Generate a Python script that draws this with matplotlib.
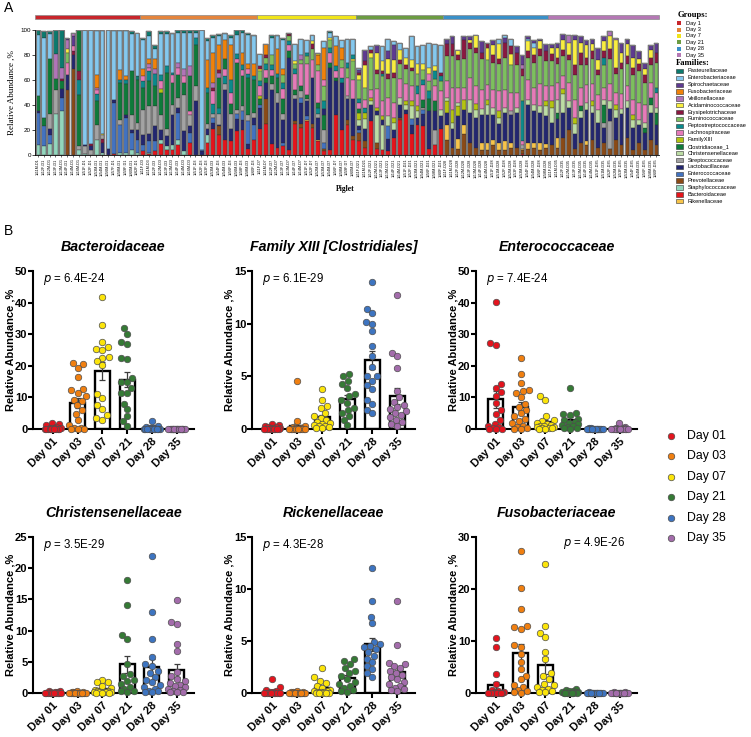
import re
import numpy as np
import matplotlib
matplotlib.use("Agg")
import matplotlib.pyplot as plt
from matplotlib.patches import Rectangle
from matplotlib.transforms import blended_transform_factory

plt.rcParams['font.family'] = ['Liberation Sans', 'DejaVu Sans']

W, H = 751, 737

# ---------------- panel A data ----------------
family_names = ['Pasteurellaceae', 'Enterobacteriaceae', 'Spirochaetaceae', 'Fusobacteriaceae',
                'Veillonellaceae', 'Acidaminococcaceae', 'Erysipelotrichaceae', 'Ruminococcaceae',
                'Peptostreptococcaceae', 'Lachnospiraceae', 'FamilyXIII', 'Clostridiaceae_1',
                'Christensenellaceae', 'Streptococcaceae', 'Lactobacillaceae', 'Enterococcaceae',
                'Prevotellaceae', 'Staphylococcaceae', 'Bacteroidaceae', 'Rikenellaceae']
family_codes = ['Pa', 'Eb', 'Sp', 'Fu', 'Ve', 'Ac', 'Er', 'Ru', 'Pp', 'La',
                'Fx', 'Cl', 'Ch', 'St', 'Lb', 'Ec', 'Pv', 'Sh', 'Bc', 'Rk']
family_colors = ['#0b7a6e', '#84c8ee', '#5e3a91', '#f0820a', '#b074b8', '#f8ee40', '#8a1840',
                 '#7dbf5e', '#0a8a8c', '#e67ab8', '#b4c410', '#0e7a3a', '#bcdca4', '#a3a3a3',
                 '#232670', '#4272c0', '#8a4a16', '#92d6bd', '#e5141b', '#f7c44a']

group_names = ['Day 1', 'Day 3', 'Day 7', 'Day 21', 'Day 28', 'Day 35']
group_tags = ['D1', 'D3', 'D7', 'D21', 'D28', 'D35']
group_colors = ['#c8262c', '#e4843c', '#f0e41a', '#6c9c42', '#3a90c8', '#b478b4']

day1_pigs = ['1111M', '1112F', '1112M', '1113F', '1113M', '1114F', '1114M', '1116M', '1151F',
             '1152F', '1153M', '1154M', '1156M', '1157F', '1158M', '1159F', '1160M', '1162F']
day3_pigs = ['1111F', '1111M', '1112F', '1112M', '1113F', '1113M', '1114F', '1114M', '1116M', '1151F',
             '1152F', '1153F', '1153M', '1154F', '1154M', '1156F', '1156M', '1158F', '1158M', '1160F']
day7_pigs = ['1111F', '1111M', '1112F', '1112M', '1113F', '1113M', '1114F', '1114M', '1151F',
             '1152F', '1152M', '1153M', '1154M', '1156F', '1158M', '1159F', '1160M']
day21_pigs = ['1111F', '1111M', '1112F', '1112M', '1113F', '1113M', '1114F', '1114M',
              '1151F', '1152F', '1153M', '1154M', '1156F', '1158M', '1160F']
day28_pigs = ['1111F', '1111M', '1112F', '1112M', '1113F', '1113M', '1114F', '1114M', '1151F',
              '1151M', '1152F', '1152M', '1153F', '1153M', '1154F', '1154M', '1156F', '1158M']
day35_pigs = ['1111F', '1111M', '1112F', '1112M', '1113F', '1113M', '1114F', '1114M', '1151F', '1151M',
              '1152F', '1152M', '1153F', '1153M', '1154F', '1154M', '1156F', '1158M', '1160F']

# stacked segments, bottom -> top, % abundance
day1_bars = [
    "Sh8 Ec26 Lb1 Cl12 Eb49 Pa4", "Sh7 Ec16 Cl7 Eb64 Pa5", "Sh9 Ec7 Lb5 St12 Cl44 Eb20 Pa2",
    "Sh33 St19 Cl9 Ve20 Pa19", "Sh35 Ec11 Lb7 Cl6 Er2 Ve9 Pa30", "Pv52 Lb12 La10 Ru8 Ac3 Ve7 Sp2",
    "Pv69 Lb11 Er3 La4 Sp8 Ve3", "Sh4 St3 Cl41 Pp12 Er7 Cl33", "Sh1 St6 Lb1 Eb92",
    "St4 Lb3 Er2 Eb91", "Sh12 St12 Cl19 Pp6 La3 Ve2 Fu10 Eb35 Pa1", "Sh2 Lb8 Er3 St3 Ac1 Eb82 Pa1",
    "Lb5 Eb95", "Bc1 Ec41 Lb2 Eb55 Pa1", "Sh2 Ec22 St4 Cl30 Pp2 Fu8 Eb31 Pa1",
    "Sh2 Ec28 Lb2 Cl25 Pp3 Fu3 Eb36 Pa1", "Sh4 Ec14 Lb2 St12 Cl35 Eb30 Pa2",
    "Sh2 Ec10 Lb8 St6 Cl34 Pa3 Eb35"]
day3_bars = [
    "Bc3 Ec5 Lb8 St20 Cl18 Pp5 La4 Fu6 Eb23 Pa2", "Bc1 Sh1 Ec9 Lb6 St22 Cl20 Pp8 La3 Ve3 Fu4 Eb18 Pa4",
    "Bc3 Ec8 Lb12 St16 Cl16 Pp10 Ve4 Fu8 Eb8 Pa3", "Bc9 Sh3 Lb8 St12 Cl18 Fx3 La6 Pp5 Eb33 Pa2",
    "Bc4 Sh3 Lb8 St6 Cl45 Pp5 Eb26 Pa2", "Bc4 Sh4 Lb24 St8 Cl18 La6 Pp2 Eb31 Pa1",
    "Bc8 Sh4 Ec22 Lb4 St8 Cl18 La6 Ve4 Eb24 Pa2", "Sh3 Lb16 St29 Cl10 La5 Ve6 Eb29 Pa2",
    "Bc10 Ec8 Lb5 St9 La3 Cl28 Ve8 Eb27 Pa2", "Lb43 St12 Cl33 Pp6 Eb4 Pa2", "Lb3 Ec1 Eb96",
    "Bc10 Sh6 Lb5 St4 Cl25 Pp4 Fu22 Eb15 Pa3", "Bc21 Lb5 Ec4 St3 Pp8 La10 Er3 Ve4 Fu24 Eb12 Pa2",
    "Bc16 Pv7 Lb1 St9 Pp5 Cl24 Ve4 Er2 Fu20 Eb7 Pa2", "Bc12 Lb40 St5 Pp6 La6 Cl8 Fu15 Eb5 Pa1",
    "Bc11 Lb10 St12 Cl8 La9 Pp10 Fu28 Eb6 Pa2", "Bc19 Lb10 Ec4 St3 Cl38 La3 Pp4 Eb15 Pa4",
    "Bc20 Lb8 Ec7 St4 Cl24 La5 Pp4 Fu10 Eb16 Pa2", "Bc5 Lb4 Ec18 St5 Cl30 Pp3 La4 Fu4 Eb23 Pa2",
    "Bc12 Ec12 Lb6 St4 Cl26 Pp3 Fu10 Eb22 Pa1"]
day7_bars = [
    "Bc21 Lb17 Ec2 Cl5 Fx2 La8 Pp4 Ru8 Ac2 Er2 Eb10", "Bc25 Pv20 Lb13 Cl4 La6 Pp5 Ru5 Er2 Fu9",
    "Bc9 Lb43 St5 Cl6 La5 Pp4 Ru8 Eb14 Pa2", "Bc6 Lb36 St8 Cl12 Pp3 Fu20 Eb10 Pa1",
    "Bc7 Ec3 Lb18 St5 Cl12 La8 Pp5 Ru6 Fu5 Eb23 Pa2", "Bc4 Lb74 Cl5 La5 Pp3 Ru4 Er2 Pv1",
    "Bc25 Pv2 Lb18 St3 Cl4 La13 Pp4 Ru4 Ac2 Eb14", "Bc22 Pv3 Lb17 Ec4 St5 Cl4 La18 Ru3 Ve4 Eb13",
    "Bc27 Rk1 Ec3 Lb12 St2 Cl3 La25 Ru6 Pp3 Eb10", "Bc22 Pv3 Lb37 La14 Ru9 Er4 Ac2 Eb5",
    "Bc11 Rk1 Lb18 St3 Pp5 Cl4 La25 Ru5 Fu8 Ac1 Eb1", "Bc3 Pv2 Ec5 St10 Cl12 Lb5 Pp6 Ru12 La5 Fu26 Eb5",
    "Bc4 Lb66 Cl4 La8 Pp4 Ru6 Ac2 Eb4 Pa1", "Bc32 Lb27 Cl3 La5 Pp4 Fu16 Eb8",
    "Bc20 Lb38 Pp4 La8 Ru6 Fu10 Eb6", "Bc24 Pv4 Lb17 St2 La15 Ru8 Pp4 Eb19",
    "Bc12 Pv3 Lb30 La15 Ru15 Ac2 Pp3 Eb13"]
day21_bars = [
    "Bc11 Pv7 Ec2 Lb3 Ch5 Fx6 Cl3 La5 Pp3 Ru15 Ac4 Er2 Sp2 Eb2", "Bc6 Pv5 Lb10 Ch8 Fx5 Pp4 La6 Ru10 Ac18 Er3 Sp9",
    "Bc27 Lb13 Ch3 Fx3 La6 Ru26 Ac4 Er2 Eb3", "Bc5 Pv5 Ch22 Lb3 Fx3 La15 Ru12 Er3 Ac14 Sp6",
    "Bc4 Ch20 Lb4 Fx3 La12 Ru20 Pp2 Er2 Ac8 Eb12", "Bc3 Lb10 Ec10 Ch8 La15 Ru15 Er4 Ac12 Sp6 Eb10",
    "Bc14 Lb6 Ch6 Fx4 La12 Ru20 Er4 Ac10 Sp12 Eb3", "Bc28 Pv2 Lb10 Ch6 La15 Ru12 Er3 Ac8 Eb6",
    "Bc33 Lb3 Ch4 Fx3 La14 Ru12 Er3 Ac6 Eb8", "Bc17 Lb7 Ec5 Ch10 Fx4 La12 Ru12 Er3 Ac6 Eb19",
    "Bc24 Lb6 Ch5 Fx4 La10 Pp6 Ru10 Ac8 Eb14", "Bc23 Lb10 Ec3 St2 Cl6 La12 Pp4 Ru8 Ac5 Eb15",
    "Bc5 Lb30 Cl10 Pp6 Ru8 La6 Ac5 Eb20", "Bc8 St12 Lb15 Cl8 La12 Ru6 Pp6 Ac4 Eb18",
    "Bc21 Lb10 Ch5 La15 Ru8 Pp4 Er3 Eb22"]
day28_bars = [
    "Pv12 Rk12 Lb10 Fx9 Ch3 La13 Ru20 Er10 Sp4", "Pv6 Lb15 Ch5 Fx10 La18 Ru25 Er10 Sp6",
    "Pv5 Rk8 Lb18 Fx8 Ch3 La12 Ru22 Er4 Ac4", "Pv17 Rk7 Lb12 Fx8 La10 Ru23 Er15 Sp3",
    "Pv10 Lb24 Ch10 La18 Ru23 Er5 Ac2 Sp3", "Pv6 Lb24 Ch6 Fx5 La14 Ru27 Er4 Ac10",
    "Pv4 Rk6 Lb22 Ch5 La15 Ru25 Er5 Sp9", "Pv4 Rk6 Lb22 Ch8 Fx4 La12 Ru20 Ac10 Er4",
    "Pv8 Rk4 Lb20 Ch6 La14 Ru22 Er6 Ac8 Sp4", "Pv4 Rk6 Lb15 Ch5 Fx5 La16 Ru22 Er4 Ac12 Eb4",
    "Pv4 Rk7 Lb23 Ch4 La14 Ru26 Er12 Sp4 Eb2", "Pv6 Rk4 Lb22 St3 La15 Ru22 Ac9 Er6 Eb6",
    "Pv6 Lb28 Ch4 La12 Ru22 Er10 Sp5", "Bc1 Pv3 Rk1 St3 La3 Pp32 Ru20 Er6 Ve3 Sp8",
    "Pv5 Rk5 Lb30 Ch4 La16 Ru18 Er5 Ac8 Eb2 Sp2", "Pv6 Rk4 Lb25 Ch5 La14 Ru20 Er6 Ac6 Eb4 Sp2",
    "Pv4 Rk6 Lb24 Ch5 La18 Ru22 Er6 Ac6 Sp2", "Pv6 Rk3 Lb22 Ch8 Fx4 La12 Ru20 Er8 Sp6"]
day35_bars = [
    "Pv8 Lb18 Ch12 Fx5 La12 Ru20 Er6 Ac5 Sp3", "Pv6 Rk8 Lb15 Cl5 Ch10 La14 Ru15 Er5 Ac8 Sp4",
    "Pv14 Lb20 Ch15 Fx4 La10 Ru16 Er5 Ac8 Sp5", "Pv20 Lb18 Ch5 La15 Ru18 Er4 Ac10 Ve6",
    "Pv5 Lb12 Ch8 Fx5 La14 Ru20 Er8 Ac20 Sp4", "Pv10 Lb20 Ch5 Cl4 La15 Ru18 Er10 Ac8 Sp5",
    "Pv8 Rk3 Lb25 Ch6 La14 Ru16 Er6 Ac10 Sp4", "Pv12 Lb22 Ch5 Fx4 La14 Ru20 Er6 Ac6 Sp4",
    "Pv6 Lb20 Ch10 La12 Ru16 Er4 Ac8 Sp10", "Pv10 Lb12 St4 Cl14 Ch4 La10 Ru18 Pp6 Er5 Ac8 Sp4",
    "Pv5 St22 Lb10 Ch6 La14 Ru20 Er8 Ac10 Ve4", "Pv12 Lb18 Ch6 Fx4 La10 Ru15 Er5 Ac22 Ve2",
    "Pv8 Lb25 Ch4 La12 Ru20 Er5 Ac8 Sp8", "Pv14 Lb24 Ch5 La12 Ru18 Er6 Ac10 Sp4",
    "Pv4 Lb18 Ch6 Fx4 La12 Ru20 Er6 Ac8 Sp10", "Pv10 Lb14 Ch4 La14 Ru25 Er6 Ac4 Sp6",
    "Pv4 Lb14 Cl4 Ch4 La14 Ru18 Er6 Ac5 Sp5", "Pv12 Lb22 Ch6 Cl6 La12 Ru14 Er6 Ac6 Sp4",
    "Pv8 Lb16 Cl10 Ch4 La12 Pp4 Ru20 Er8 Sp8"]

# ---------------- panel B data ----------------
day_labels = ['Day 01', 'Day 03', 'Day 07', 'Day 21', 'Day 28', 'Day 35']
day_colors = ['#e3141e', '#f07f10', '#fbe40a', '#357a35', '#3d74c0', '#a36cab']

b_titles = ['Bacteroidaceae', 'Family XIII [Clostridiales]', 'Enterococcaceae',
            'Christensenellaceae', 'Rickenellaceae', 'Fusobacteriaceae']
b_pvalues = ['6.4E-24', '6.1E-29', '7.4E-24', '3.5E-29', '4.3E-28', '4.9E-26']
b_ymax = [50, 15, 50, 25, 15, 30]
b_ystep = [10, 5, 10, 5, 5, 10]

bacteroidaceae = [
    [1.8, 1.5, 1.2, 0.6, 0.4, 0.3, 0.2, 0.2, 0.1, 0.1, 0.1, 0.0, 0.0, 0.0, 0.0, 0.0, 0.0, 0.0],
    [20.9, 20.5, 19.3, 16.3, 12.6, 12.2, 11.3, 10.6, 9.3, 9.0, 7.5, 6.0, 4.8, 2.8, 1.2, 0.3, 0.2, 0.1, 0.0, 0.0],
    [41.8, 33.0, 27.4, 26.0, 25.3, 25.0, 22.7, 22.5, 21.4, 20.3, 11.1, 9.7, 7.6, 6.2, 4.4, 2.9, 3.5],
    [32.0, 30.2, 27.6, 26.8, 22.6, 22.2, 16.0, 15.0, 14.8, 13.0, 11.5, 11.3, 8.0, 6.2, 4.0, 2.5, 1.0],
    [2.5, 0.8, 0.6, 0.4, 0.3, 0.2, 0.2, 0.1, 0.1, 0.0, 0.0, 0.0, 0.0, 0.0, 0.0, 0.0, 0.0, 0.0],
    [0.1, 0.1, 0.1, 0.0, 0.0, 0.0, 0.0, 0.0, 0.0, 0.0, 0.0, 0.0, 0.0, 0.0, 0.0, 0.0, 0.0, 0.0, 0.0]]
family_xiii = [
    [0.5, 0.4, 0.3, 0.2, 0.2, 0.1, 0.1, 0.1, 0.0, 0.0, 0.0, 0.0, 0.0, 0.0, 0.0, 0.0, 0.0, 0.0],
    [4.6, 0.8, 0.3, 0.2, 0.1, 0.1, 0.05, 0.0, 0.0, 0.0, 0.0, 0.0, 0.0, 0.0, 0.0, 0.0, 0.0, 0.0, 0.0, 0.0],
    [3.8, 2.8, 2.2, 2.0, 1.5, 1.2, 1.0, 0.9, 0.7, 0.6, 0.5, 0.4, 0.3, 0.3, 0.2, 0.1, 0.1],
    [5.2, 5.0, 4.6, 4.3, 3.9, 3.3, 3.1, 2.8, 2.5, 2.0, 1.8, 1.5, 1.2, 0.9, 0.4],
    [14.0, 11.4, 11.0, 10.2, 10.0, 9.3, 7.9, 6.9, 5.9, 5.0, 5.0, 4.6, 4.2, 3.8, 2.8, 2.4, 1.8, 1.5],
    [12.7, 7.2, 6.9, 5.8, 3.6, 3.0, 2.6, 2.3, 2.1, 1.9, 1.7, 1.5, 1.3, 1.1, 0.9, 0.7, 0.5, 0.3]]
enterococcaceae = [
    [40.3, 27.3, 26.5, 14.2, 13.0, 11.7, 10.5, 8.2, 6.0, 4.7, 2.8, 1.5, 0.8, 0.5, 0.2, 0.1, 0.0, 0.0],
    [22.6, 17.4, 14.5, 12.5, 12.0, 11.5, 10.1, 8.0, 7.0, 6.0, 5.0, 4.0, 3.2, 2.5, 1.8, 1.0, 0.5, 0.3, 0.1, 0.0],
    [10.4, 9.3, 4.2, 3.0, 2.5, 2.0, 1.6, 1.2, 1.0, 0.8, 0.6, 0.5, 0.4, 0.3, 0.2, 0.1, 0.1],
    [13.1, 5.2, 4.8, 4.5, 3.2, 2.8, 2.2, 1.8, 1.5, 1.2, 0.9, 0.6, 0.4, 0.2, 0.1],
    [0.3, 0.2, 0.1, 0.1, 0.0, 0.0, 0.0, 0.0, 0.0, 0.0, 0.0, 0.0, 0.0, 0.0, 0.0, 0.0, 0.0, 0.0],
    [2.0, 0.5, 0.3, 0.2, 0.1, 0.1, 0.0, 0.0, 0.0, 0.0, 0.0, 0.0, 0.0, 0.0, 0.0, 0.0, 0.0, 0.0, 0.0]]
christensenellaceae = [
    [0.4, 0.3, 0.2, 0.1, 0.1, 0.0, 0.0, 0.0, 0.0, 0.0, 0.0, 0.0, 0.0, 0.0, 0.0, 0.0, 0.0, 0.0],
    [0.4, 0.2, 0.1, 0.1, 0.0, 0.0, 0.0, 0.0, 0.0, 0.0, 0.0, 0.0, 0.0, 0.0, 0.0, 0.0, 0.0, 0.0, 0.0, 0.0],
    [2.1, 1.8, 1.7, 1.2, 0.8, 0.5, 0.4, 0.3, 0.2, 0.2, 0.1, 0.1, 0.1, 0.1, 0.0, 0.0, 0.0],
    [18.1, 14.1, 9.3, 8.6, 4.7, 3.0, 2.8, 2.1, 2.0, 1.5, 1.0, 0.6, 0.4, 0.3, 0.2],
    [21.9, 13.0, 8.6, 5.8, 4.6, 4.4, 3.5, 3.2, 2.6, 2.1, 1.7, 1.3, 0.9, 0.6, 0.4, 0.3, 0.1, 0.1],
    [14.9, 11.4, 11.1, 7.8, 6.7, 3.3, 2.7, 2.2, 1.9, 1.6, 1.3, 1.1, 0.9, 0.7, 0.5, 0.3, 0.2, 0.1, 0.1]]
rikenellaceae = [
    [1.3, 0.6, 0.3, 0.2, 0.1, 0.1, 0.0, 0.0, 0.0, 0.0, 0.0, 0.0, 0.0, 0.0, 0.0, 0.0, 0.0, 0.0],
    [0.2, 0.1, 0.1, 0.1, 0.0, 0.0, 0.0, 0.0, 0.0, 0.0, 0.0, 0.0, 0.0, 0.0, 0.0, 0.0, 0.0, 0.0, 0.0, 0.0],
    [2.4, 1.5, 1.2, 1.0, 0.7, 0.5, 0.3, 0.2, 0.2, 0.1, 0.1, 0.1, 0.0, 0.0, 0.0, 0.0, 0.0],
    [3.3, 3.1, 2.8, 2.4, 2.1, 1.9, 1.6, 1.3, 1.1, 0.9, 0.7, 0.5, 0.3, 0.2, 0.1],
    [12.0, 8.8, 7.3, 6.7, 4.9, 4.7, 4.5, 4.4, 4.2, 3.9, 3.6, 3.3, 3.0, 2.6, 2.3, 1.9, 1.5],
    [8.8, 4.6, 2.9, 2.8, 2.6, 2.4, 2.1, 1.9, 1.7, 1.5, 1.3, 1.1, 0.9, 0.7, 0.5, 0.4, 0.3, 0.2]]
fusobacteriaceae = [
    [10.6, 8.9, 3.6, 1.8, 0.6, 0.4, 0.2, 0.1, 0.0, 0.0, 0.0, 0.0, 0.0, 0.0, 0.0, 0.0, 0.0, 0.0],
    [27.3, 20.2, 16.1, 12.8, 12.6, 12.4, 9.2, 8.9, 7.5, 6.0, 4.6, 3.3, 2.6, 1.6, 1.2, 0.6, 0.3, 0.1, 0.0],
    [24.9, 12.9, 11.6, 10.8, 7.9, 6.5, 3.8, 3.2, 2.6, 1.8, 1.5, 1.2, 0.8, 0.5, 0.3, 0.2, 0.1],
    [0.7, 0.5, 0.4, 0.3, 0.2, 0.1, 0.1, 0.0, 0.0, 0.0, 0.0, 0.0, 0.0, 0.0, 0.0],
    [0.1, 0.0, 0.0, 0.0, 0.0, 0.0, 0.0, 0.0, 0.0, 0.0, 0.0, 0.0, 0.0, 0.0, 0.0, 0.0, 0.0, 0.0],
    [0.1, 0.1, 0.0, 0.0, 0.0, 0.0, 0.0, 0.0, 0.0, 0.0, 0.0, 0.0, 0.0, 0.0, 0.0, 0.0, 0.0, 0.0, 0.0]]
b_data = [bacteroidaceae, family_xiii, enterococcaceae, christensenellaceae, rikenellaceae, fusobacteriaceae]


fig = plt.figure(figsize=(W / 100, H / 100), dpi=100)


def px_axes(l, t, r, b):
    return fig.add_axes([l / W, 1 - b / H, (r - l) / W, (b - t) / H])


# ================= panel A =================
all_bars = day1_bars + day3_bars + day7_bars + day21_bars + day28_bars + day35_bars
all_pigs = [day1_pigs, day3_pigs, day7_pigs, day21_pigs, day28_pigs, day35_pigs]
labels = [p + '-' + tag for pigs, tag in zip(all_pigs, group_tags) for p in pigs]
n = len(all_bars)

axA = px_axes(35, 30, 659, 155)
seg_re = re.compile(r'([A-Z][a-z])(\d+(?:\.\d+)?)')
xs = {c: [] for c in family_codes}
hs = {c: [] for c in family_codes}
bs = {c: [] for c in family_codes}
totals = []
for i, s in enumerate(all_bars):
    b = 0.0
    for code, v in seg_re.findall(s):
        xs[code].append(i)
        hs[code].append(float(v))
        bs[code].append(b)
        b += float(v)
    totals.append(b)
for code, col in zip(family_codes, family_colors):
    if xs[code]:
        axA.bar(xs[code], hs[code], bottom=bs[code], width=0.82, color=col,
                edgecolor='#2a2a2a', linewidth=0.25)
axA.bar(np.arange(n), totals, width=0.82, fill=False, edgecolor='#7a7a7a', linewidth=0.8)

axA.set_xlim(-0.5, n - 0.5)
axA.set_ylim(0, 100)
axA.set_yticks(range(0, 101, 20))
axA.set_xticks(np.arange(n))
axA.set_xticklabels(labels, rotation=90, fontsize=2.7)
axA.tick_params(axis='y', labelsize=4.5, length=2, width=0.5, pad=1)
axA.tick_params(axis='x', length=1.5, width=0.4, pad=1)
for sp in ['top', 'right']:
    axA.spines[sp].set_visible(False)
for sp in ['left', 'bottom']:
    axA.spines[sp].set_linewidth(0.6)
axA.set_ylabel('Relative Abundance ,%', family='Liberation Serif', fontsize=6.5, labelpad=3)
fig.text(345 / W, 1 - 189 / H, 'Piglet', family='Liberation Serif', fontweight='bold',
         fontsize=5.5, ha='center', va='center')

# day group strips above the bars
trans = blended_transform_factory(axA.transData, axA.transAxes)
start = 0
for pigs, col in zip(all_pigs, group_colors):
    axA.add_patch(Rectangle((start - 0.5, 1.09), len(pigs), 0.03, transform=trans, clip_on=False,
                            facecolor=col, edgecolor='#8a8a8a', linewidth=0.5))
    start += len(pigs)

# legend for panel A (pixel coordinates)
axLA = px_axes(670, 0, 751, 210)
axLA.set_xlim(670, 751)
axLA.set_ylim(210, 0)
axLA.axis('off')
axLA.text(678, 15, 'Groups:', family='Liberation Serif', fontweight='bold', fontsize=6.2, va='center')
for k, (name, col) in enumerate(zip(group_names, group_colors)):
    y = 23.3 + k * 6.34
    axLA.add_patch(Rectangle((677, y - 2), 4, 4, facecolor=col, edgecolor='none'))
    axLA.text(686.5, y, name, fontsize=4.1, va='center')
axLA.text(676, 63.3, 'Families:', family='Liberation Serif', fontweight='bold', fontsize=6.2, va='center')
for k, (name, col) in enumerate(zip(family_names, family_colors)):
    y = 71 + k * 6.85
    axLA.add_patch(Rectangle((675.5, y - 2.2), 7, 4.4, facecolor=col, edgecolor='#333333', linewidth=0.4))
    axLA.text(687.5, y, name, fontsize=4.1, va='center')

fig.text(4 / W, 1 - 8 / H, 'A', fontsize=10, va='center')
fig.text(4 / W, 1 - 231 / H, 'B', fontsize=10, va='center')

# ================= panel B =================
rects = [(33, 271, 194, 429), (252, 271, 415, 429), (476, 271, 637, 429),
         (33, 537, 194, 693), (252, 537, 415, 693), (476, 537, 637, 693)]
XL = (-0.8, 5.7)


def swarm(vals, sx, sy, d=6.4, half=0.33):
    cands = np.linspace(-half, half, 41)
    cands = cands[np.argsort(np.abs(cands), kind='stable')]
    placed = []
    offs = np.zeros(len(vals))
    for i in np.argsort(vals, kind='stable'):
        y = vals[i] * sy
        best, best_d = 0.0, -1.0
        for c in cands:
            x = c * sx
            md = min([np.hypot(x - px, y - py) for px, py in placed], default=np.inf)
            if md >= d:
                best = c
                break
            if md > best_d + 1e-9:
                best, best_d = c, md
        offs[i] = best
        placed.append((best * sx, y))
    return offs


for idx, (rect, title, pval, ymax, ystep, data) in enumerate(
        zip(rects, b_titles, b_pvalues, b_ymax, b_ystep, b_data)):
    l, t, r, b = rect
    ax = px_axes(l, t, r, b)
    sx = (r - l) / (XL[1] - XL[0])
    sy = (b - t) / ymax
    for k, (vals, col) in enumerate(zip(data, day_colors)):
        v = np.array(vals, dtype=float)
        m = v.mean()
        sem = v.std(ddof=1) / np.sqrt(len(v))
        ax.bar(k, m, width=0.6, facecolor='white', edgecolor='black', linewidth=1.7, zorder=2)
        ax.errorbar(k, m, yerr=sem, color='#3c3c3c', capsize=2.5, elinewidth=0.9,
                    capthick=0.9, zorder=3)
        offs = swarm(v, sx, sy)
        ax.scatter(k + offs, v, s=22, c=col, edgecolors='#4d4d4d', linewidths=0.5,
                   zorder=4, clip_on=False)
    ax.set_xlim(*XL)
    ax.set_ylim(0, ymax)
    ax.set_yticks(np.arange(0, ymax + 0.1, ystep))
    ax.set_yticklabels([str(int(v)) for v in np.arange(0, ymax + 0.1, ystep)],
                       fontweight='bold', fontsize=8)
    ax.set_xticks(range(6))
    ax.set_xticklabels(day_labels, rotation=45, ha='right', rotation_mode='anchor',
                       fontweight='bold', fontsize=8)
    for sp in ['top', 'right']:
        ax.spines[sp].set_visible(False)
    for sp in ['left', 'bottom']:
        ax.spines[sp].set_linewidth(1.5)
    ax.tick_params(length=3.5, width=1.5)
    ax.tick_params(axis='y', pad=0.5)
    ax.tick_params(axis='x', pad=1.5)
    ax.set_ylabel('Relative Abundance ,%', fontweight='bold', fontsize=8)
    ax.yaxis.set_label_coords(-17 / (r - l), 0.5)
    ax.text(0.5, 1 + 24 / (b - t), title, transform=ax.transAxes, ha='center', va='center',
            fontweight='bold', fontstyle='italic', fontsize=10.2)
    if idx == 5:
        ax.text(1 - 12 / (r - l), 1 - 6 / (b - t), r'$p$ = ' + pval, transform=ax.transAxes,
                ha='right', va='center', fontsize=8.3)
    else:
        ax.text(10 / (r - l), 1 - 8 / (b - t), r'$p$ = ' + pval, transform=ax.transAxes,
                ha='left', va='center', fontsize=8.3)

# legend for panel B
axLB = px_axes(655, 425, 751, 550)
axLB.set_xlim(655, 751)
axLB.set_ylim(550, 425)
axLB.axis('off')
for k, (name, col) in enumerate(zip(day_labels, day_colors)):
    y = 436 + k * 20.4
    axLB.scatter([670.7], [y], s=22, c=col, edgecolors='#4d4d4d', linewidths=0.5)
    axLB.text(687, y, name, fontsize=8.8, va='center')

fig.savefig('out.png', dpi=100)
